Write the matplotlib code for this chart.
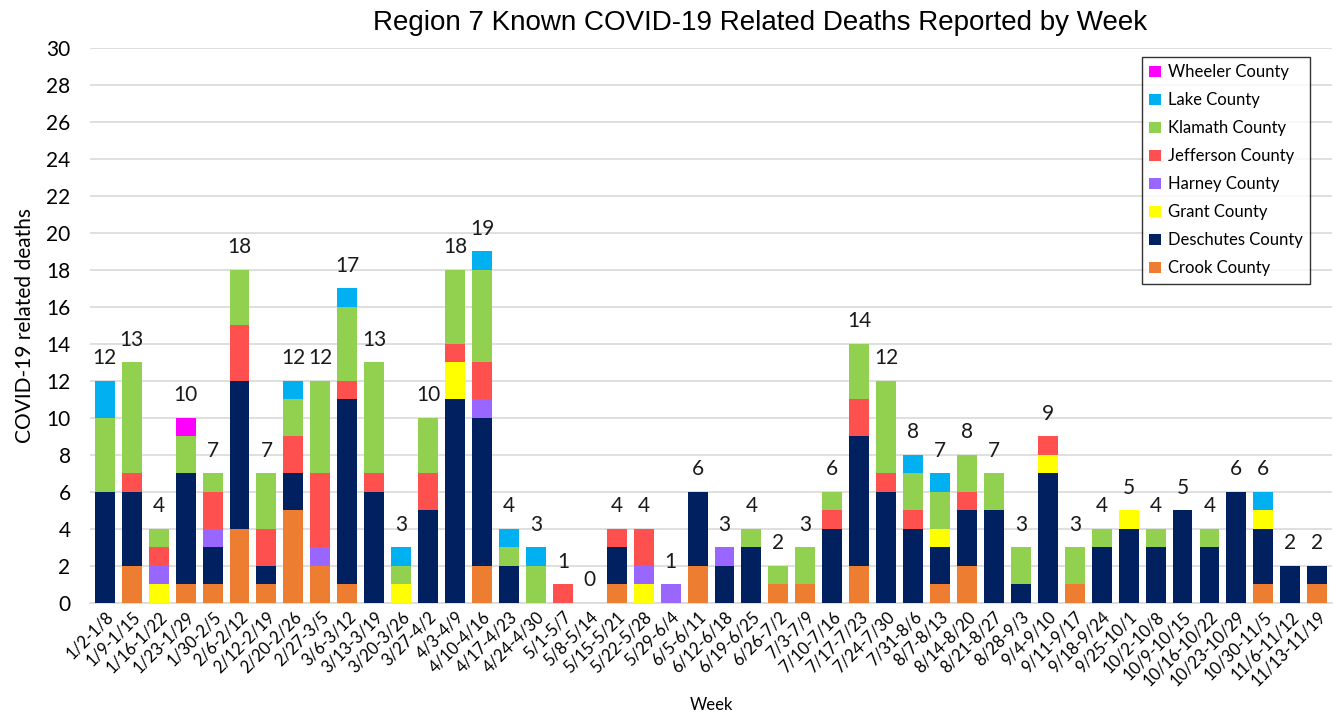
import numpy as np
import matplotlib
matplotlib.use('Agg')
import matplotlib.pyplot as plt

# 周标签
weeks = ['1/2-1/8', '1/9-1/15', '1/16-1/22', '1/23-1/29', '1/30-2/5', '2/6-2/12',
         '2/12-2/19', '2/20-2/26', '2/27-3/5', '3/6-3/12', '3/13-3/19', '3/20-3/26',
         '3/27-4/2', '4/3-4/9', '4/10-4/16', '4/17-4/23', '4/24-4/30', '5/1-5/7',
         '5/8-5/14', '5/15-5/21', '5/22-5/28', '5/29-6/4', '6/5-6/11', '6/12-6/18',
         '6/19-6/25', '6/26-7/2', '7/3-7/9', '7/10-7/16', '7/17-7/23', '7/24-7/30',
         '7/31-8/6', '8/7-8/13', '8/14-8/20', '8/21-8/27', '8/28-9/3', '9/4-9/10',
         '9/11-9/17', '9/18-9/24', '9/25-10/1', '10/2-10/8', '10/9-10/15',
         '10/16-10/22', '10/23-10/29', '10/30-11/5', '11/6-11/12', '11/13-11/19']

# 各县每周死亡数（从下往上堆叠）
crook     = [0, 2, 0, 1, 1, 4, 1, 5, 2, 1, 0, 0, 0, 0, 2, 0, 0, 0, 0, 1, 0, 0, 2, 0,
             0, 1, 1, 0, 2, 0, 0, 1, 2, 0, 0, 0, 1, 0, 0, 0, 0, 0, 0, 1, 0, 1]
deschutes = [6, 4, 0, 6, 2, 8, 1, 2, 0, 10, 6, 0, 5, 11, 8, 2, 0, 0, 0, 2, 0, 0, 4, 2,
             3, 0, 0, 4, 7, 6, 4, 2, 3, 5, 1, 7, 0, 3, 4, 3, 5, 3, 6, 3, 2, 1]
grant     = [0, 0, 1, 0, 0, 0, 0, 0, 0, 0, 0, 1, 0, 2, 0, 0, 0, 0, 0, 0, 1, 0, 0, 0,
             0, 0, 0, 0, 0, 0, 0, 1, 0, 0, 0, 1, 0, 0, 1, 0, 0, 0, 0, 1, 0, 0]
harney    = [0, 0, 1, 0, 1, 0, 0, 0, 1, 0, 0, 0, 0, 0, 1, 0, 0, 0, 0, 0, 1, 1, 0, 1,
             0, 0, 0, 0, 0, 0, 0, 0, 0, 0, 0, 0, 0, 0, 0, 0, 0, 0, 0, 0, 0, 0]
jefferson = [0, 1, 1, 0, 2, 3, 2, 2, 4, 1, 1, 0, 2, 1, 2, 0, 0, 1, 0, 1, 2, 0, 0, 0,
             0, 0, 0, 1, 2, 1, 1, 0, 1, 0, 0, 1, 0, 0, 0, 0, 0, 0, 0, 0, 0, 0]
klamath   = [4, 6, 1, 2, 1, 3, 3, 2, 5, 4, 6, 1, 3, 4, 5, 1, 2, 0, 0, 0, 0, 0, 0, 0,
             1, 1, 2, 1, 3, 5, 2, 2, 2, 2, 2, 0, 2, 1, 0, 1, 0, 1, 0, 0, 0, 0]
lake      = [2, 0, 0, 0, 0, 0, 0, 1, 0, 1, 0, 1, 0, 0, 1, 1, 1, 0, 0, 0, 0, 0, 0, 0,
             0, 0, 0, 0, 0, 0, 1, 1, 0, 0, 0, 0, 0, 0, 0, 0, 0, 0, 0, 1, 0, 0]
wheeler   = [0, 0, 0, 1, 0, 0, 0, 0, 0, 0, 0, 0, 0, 0, 0, 0, 0, 0, 0, 0, 0, 0, 0, 0,
             0, 0, 0, 0, 0, 0, 0, 0, 0, 0, 0, 0, 0, 0, 0, 0, 0, 0, 0, 0, 0, 0]

series = [('Crook County', crook, '#ED7D31'),
          ('Deschutes County', deschutes, '#002060'),
          ('Grant County', grant, '#FFFF00'),
          ('Harney County', harney, '#9966FF'),
          ('Jefferson County', jefferson, '#FF5050'),
          ('Klamath County', klamath, '#92D050'),
          ('Lake County', lake, '#00B0F0'),
          ('Wheeler County', wheeler, '#FF00FF')]

plt.rcParams['font.family'] = ['Lato', 'DejaVu Sans']

fig = plt.figure(figsize=(13.35, 7.13), dpi=100)
ax = fig.add_axes([0.0674, 0.1543, 0.9304, 0.7784])

x = np.arange(len(weeks))
bottom = np.zeros(len(weeks))
handles = []
for name, vals, color in series:
    vals = np.array(vals)
    b = ax.bar(x, vals, bottom=bottom, width=0.74, color=color, label=name, zorder=3)
    handles.append(b)
    bottom += vals

# 总数标签
for xi, tot in zip(x, bottom):
    ax.annotate(str(int(tot)), (xi, tot), xytext=(0, 9), textcoords='offset points',
                ha='center', va='bottom', fontsize=15, color='#1a1a1a')

ax.set_xlim(-0.55, len(weeks) - 0.45)
ax.set_ylim(0, 30)
ax.set_yticks(range(0, 31, 2))
ax.set_xticks(x)
ax.set_xticklabels(weeks, rotation=45, ha='right', rotation_mode='anchor', fontsize=12)
ax.tick_params(axis='y', labelsize=15, length=0, pad=14)
ax.tick_params(axis='x', length=0, pad=4)
ax.grid(axis='y', color='#D9D9D9', lw=1.2, zorder=0)
for s in ['top', 'right', 'left']:
    ax.spines[s].set_visible(False)
ax.spines['bottom'].set_color('#D9D9D9')
ax.spines['bottom'].set_linewidth(1.2)

ax.set_ylabel('COVID-19 related deaths', fontsize=15, labelpad=8)
fig.text(0.5326, 0.0, 'Week', ha='center', va='bottom', fontsize=12)
fig.text(0.5693, 0.968, 'Region 7 Known COVID-19 Related Deaths Reported by Week',
         ha='center', va='center', fontsize=20, family=['Liberation Sans', 'DejaVu Sans'])

leg = ax.legend(handles[::-1], [s[0] for s in series][::-1], loc='upper right',
                bbox_to_anchor=(0.9823, 0.9838), borderaxespad=0, fontsize=12,
                frameon=True, fancybox=False,
                handlelength=0.7, handleheight=0.7, handletextpad=0.4,
                labelspacing=0.72, borderpad=0.45)
leg.get_frame().set_edgecolor('black')
leg.get_frame().set_linewidth(1.0)

plt.savefig('out.png', dpi=100)
